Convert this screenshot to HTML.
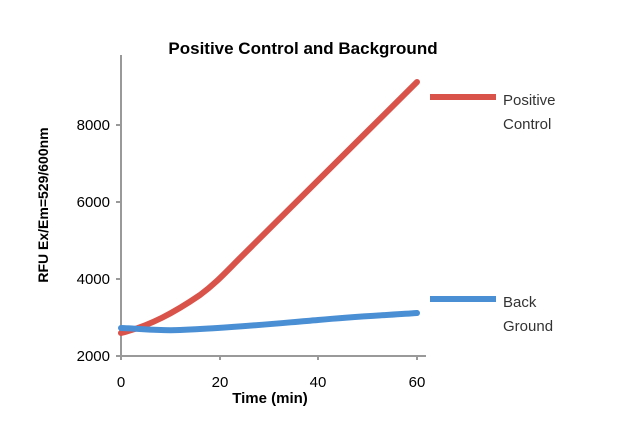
<!DOCTYPE html>
<html><head><style>body{margin:0;background:#fff}</style></head><body>
<svg width="640" height="432" xmlns="http://www.w3.org/2000/svg" font-family="Liberation Sans, sans-serif">
<rect width="640" height="432" fill="#fff"/>
<g stroke="#999" stroke-width="2" fill="none">
<line x1="121" y1="55" x2="121" y2="356"/>
<line x1="121" y1="356" x2="426" y2="356"/>
<line x1="116" y1="125" x2="121" y2="125"/>
<line x1="116" y1="202" x2="121" y2="202"/>
<line x1="116" y1="279" x2="121" y2="279"/>
<line x1="116" y1="356" x2="121" y2="356"/>
<line x1="121" y1="356" x2="121" y2="360"/>
<line x1="220" y1="356" x2="220" y2="360"/>
<line x1="318" y1="356" x2="318" y2="360"/>
<line x1="417" y1="356" x2="417" y2="360"/>
</g>
<g font-size="15" fill="#000" text-anchor="end">
<text x="110" y="130">8000</text><text x="110" y="207">6000</text>
<text x="110" y="284">4000</text><text x="110" y="361">2000</text>
</g>
<g font-size="15" fill="#000" text-anchor="middle">
<text x="121" y="387">0</text><text x="220" y="387">20</text>
<text x="318" y="387">40</text><text x="417" y="387">60</text>
</g>
<text x="270" y="403" font-size="15" font-weight="bold" text-anchor="middle">Time (min)</text>
<text x="303" y="54" font-size="17" font-weight="bold" text-anchor="middle">Positive Control and Background</text>
<text transform="translate(48,205) rotate(-90)" font-size="14" font-weight="bold" text-anchor="middle">RFU Ex/Em=529/600nm</text>
<path d="M121,333 C150,326 175,312 200,295 C215,284 225,273 240,258 L417,82" stroke="#d9534a" stroke-width="6" fill="none" stroke-linecap="round"/>
<path d="M121,328 C145,329 160,331 180,330 C230,328 270,324 318,320 C360,316 390,315 417,313" stroke="#4a8fd4" stroke-width="6" fill="none" stroke-linecap="round"/>
<line x1="430" y1="97" x2="496" y2="97" stroke="#d9534a" stroke-width="6"/>
<line x1="430" y1="299" x2="496" y2="299" stroke="#4a8fd4" stroke-width="6"/>
<g font-size="15" fill="#333">
<text x="503" y="105">Positive</text><text x="503" y="129">Control</text>
<text x="503" y="307">Back</text><text x="503" y="331">Ground</text>
</g>
</svg>
</body></html>
